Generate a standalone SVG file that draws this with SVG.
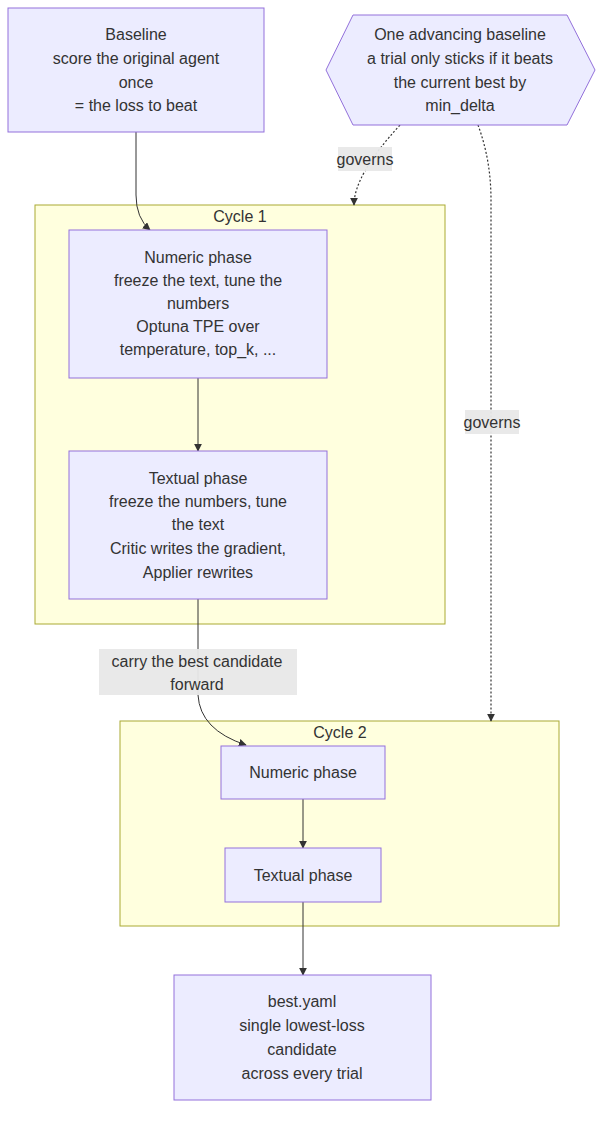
<svg xmlns="http://www.w3.org/2000/svg" width="608" height="1122" viewBox="0 0 608 1122">
<style>
.node{fill:#ECECFF;stroke:#9370DB;stroke-width:1}
.cluster{fill:#FFFFDE;stroke:#AAAA33;stroke-width:1}
text{font-family:"Liberation Sans",Arial,sans-serif;font-size:16px;fill:#333333;text-anchor:middle;dominant-baseline:central}
.edge{fill:none;stroke:#333333;stroke-width:1}
.dotted{fill:none;stroke:#333333;stroke-width:1.2;stroke-dasharray:2 2}
.lbl{fill:#E8E8E8;opacity:0.95}
</style>
<defs>
<marker id="arrow" viewBox="0 0 10 10" refX="9" refY="5" markerWidth="8" markerHeight="8" markerUnits="userSpaceOnUse" orient="auto">
<path d="M0,0 L10,5 L0,10 z" fill="#333333"/>
</marker>
</defs>
<g id="cycle1">
<rect class="cluster" x="35" y="205" width="410" height="419"/>
<text x="240" y="216">Cycle 1</text>
</g>
<g id="cycle2">
<rect class="cluster" x="120" y="721" width="439" height="205"/>
<text x="340" y="732">Cycle 2</text>
</g>
<g id="connectors">
<path class="edge" d="M136,132 L136,195 Q136,218 150,230" marker-end="url(#arrow)"/>
<path class="dotted" d="M400,125 Q354,175 354,205" marker-end="url(#arrow)"/>
<path class="dotted" d="M478,125 Q491,160 491,200 L491,721" marker-end="url(#arrow)"/>
<path class="edge" d="M198,378 L198,451" marker-end="url(#arrow)"/>
<path class="edge" d="M198,599 L198,695 Q200,730 246,745" marker-end="url(#arrow)"/>
<path class="edge" d="M303,799 L303,848" marker-end="url(#arrow)"/>
<path class="edge" d="M303,902 L303,975" marker-end="url(#arrow)"/>
<rect class="lbl" x="338" y="147" width="54" height="24"/>
<text x="365" y="159">governs</text>
<rect class="lbl" x="465" y="410" width="54" height="24"/>
<text x="492" y="422">governs</text>
<rect class="lbl" x="99" y="649" width="198" height="46"/>
<text x="197" y="661">carry the best candidate</text>
<text x="197" y="684">forward</text>
</g>
<g id="baseline">
<rect class="node" x="8" y="8" width="256" height="124"/>
<text x="136" y="34">Baseline</text>
<text x="136" y="58">score the original agent</text>
<text x="136" y="82">once</text>
<text x="136" y="105">= the loss to beat</text>
</g>
<g id="advancing">
<polygon class="node" points="353,15 567,15 595,70 567,125 353,125 326,70"/>
<text x="460" y="34">One advancing baseline</text>
<text x="460" y="58">a trial only sticks if it beats</text>
<text x="460" y="82">the current best by</text>
<text x="460" y="105">min_delta</text>
</g>
<g id="numeric1">
<rect class="node" x="69" y="230" width="258" height="148"/>
<text x="198" y="257">Numeric phase</text>
<text x="198" y="280">freeze the text, tune the</text>
<text x="198" y="303">numbers</text>
<text x="198" y="326">Optuna TPE over</text>
<text x="198" y="349">temperature, top_k, ...</text>
</g>
<g id="textual1">
<rect class="node" x="69" y="451" width="258" height="148"/>
<text x="198" y="478">Textual phase</text>
<text x="198" y="501">freeze the numbers, tune</text>
<text x="198" y="524">the text</text>
<text x="198" y="548">Critic writes the gradient,</text>
<text x="198" y="572">Applier rewrites</text>
</g>
<g id="numeric2">
<rect class="node" x="221" y="746" width="164" height="53"/>
<text x="303" y="772">Numeric phase</text>
</g>
<g id="textual2">
<rect class="node" x="225" y="848" width="156" height="54"/>
<text x="303" y="875">Textual phase</text>
</g>
<g id="best">
<rect class="node" x="174" y="975" width="257" height="125"/>
<text x="302" y="1001">best.yaml</text>
<text x="302" y="1025">single lowest-loss</text>
<text x="302" y="1049">candidate</text>
<text x="302" y="1073">across every trial</text>
</g>
</svg>
